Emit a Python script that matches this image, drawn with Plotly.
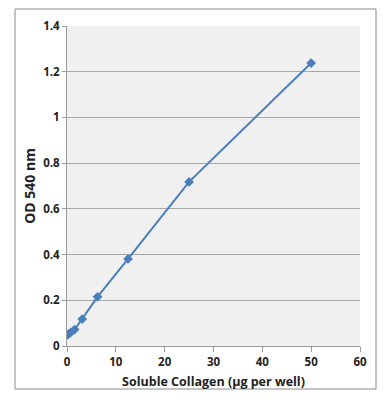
import plotly.graph_objects as go

collagen_ug = [0, 0.39, 0.78, 1.56, 3.125, 6.25, 12.5, 25, 50]
od540 = [0.048, 0.053, 0.060, 0.072, 0.118, 0.215, 0.381, 0.718, 1.238]
x_ticks = [0, 10, 20, 30, 40, 50, 60]
y_ticks = [0, 0.2, 0.4, 0.6, 0.8, 1, 1.2, 1.4]
y_tick_text = ["0", "0.2", "0.4", "0.6", "0.8", "1", "1.2", "1.4"]

blue = "#4a7ebb"
font_family = "Open Sans, Liberation Sans, sans-serif"

fig = go.Figure()
fig.add_trace(go.Scatter(
    x=collagen_ug, y=od540, mode="lines+markers",
    line=dict(color=blue, width=2),
    marker=dict(symbol="diamond", size=7.5, color=blue),
    showlegend=False,
))

fig.update_layout(
    width=378, height=392,
    margin=dict(l=59, r=26, t=18, b=54, autoexpand=False),
    paper_bgcolor="white",
    plot_bgcolor="#f0f0f0",
    font=dict(family=font_family, color="#222"),
    xaxis=dict(
        range=[0, 60], tickvals=x_ticks, showgrid=False, zeroline=False,
        showline=True, linecolor="#9a9a9a", linewidth=1, automargin=False,
        ticks="outside", ticklen=5, tickcolor="#9a9a9a",
        tickfont=dict(size=11.5, family=font_family, color="#222", weight="bold"),
        title=dict(text="<b>Soluble Collagen (µg per well)</b>", font=dict(size=12.5), standoff=9),
    ),
    yaxis=dict(
        range=[0, 1.4], tickvals=y_ticks, ticktext=y_tick_text,
        showgrid=True, gridcolor="#a8a8a8", gridwidth=1, zeroline=False,
        showline=True, linecolor="#9a9a9a", linewidth=1, automargin=False,
        ticks="outside", ticklen=4, tickcolor="#9a9a9a",
        tickfont=dict(size=11.5, family=font_family, color="#222", weight="bold"),
        title=dict(text="<b>OD 540 nm</b>", font=dict(size=14), standoff=4),
    ),
    shapes=[dict(
        type="rect", xref="paper", yref="paper",
        x0=(7 - 59) / 293, x1=(368 - 59) / 293,
        y0=-(381 - 338) / 320, y1=1 + (18 - 1) / 320,
        line=dict(color="#8a8a8a", width=1), fillcolor="rgba(0,0,0,0)", layer="below",
    )],
)

fig.write_html("out.html")
